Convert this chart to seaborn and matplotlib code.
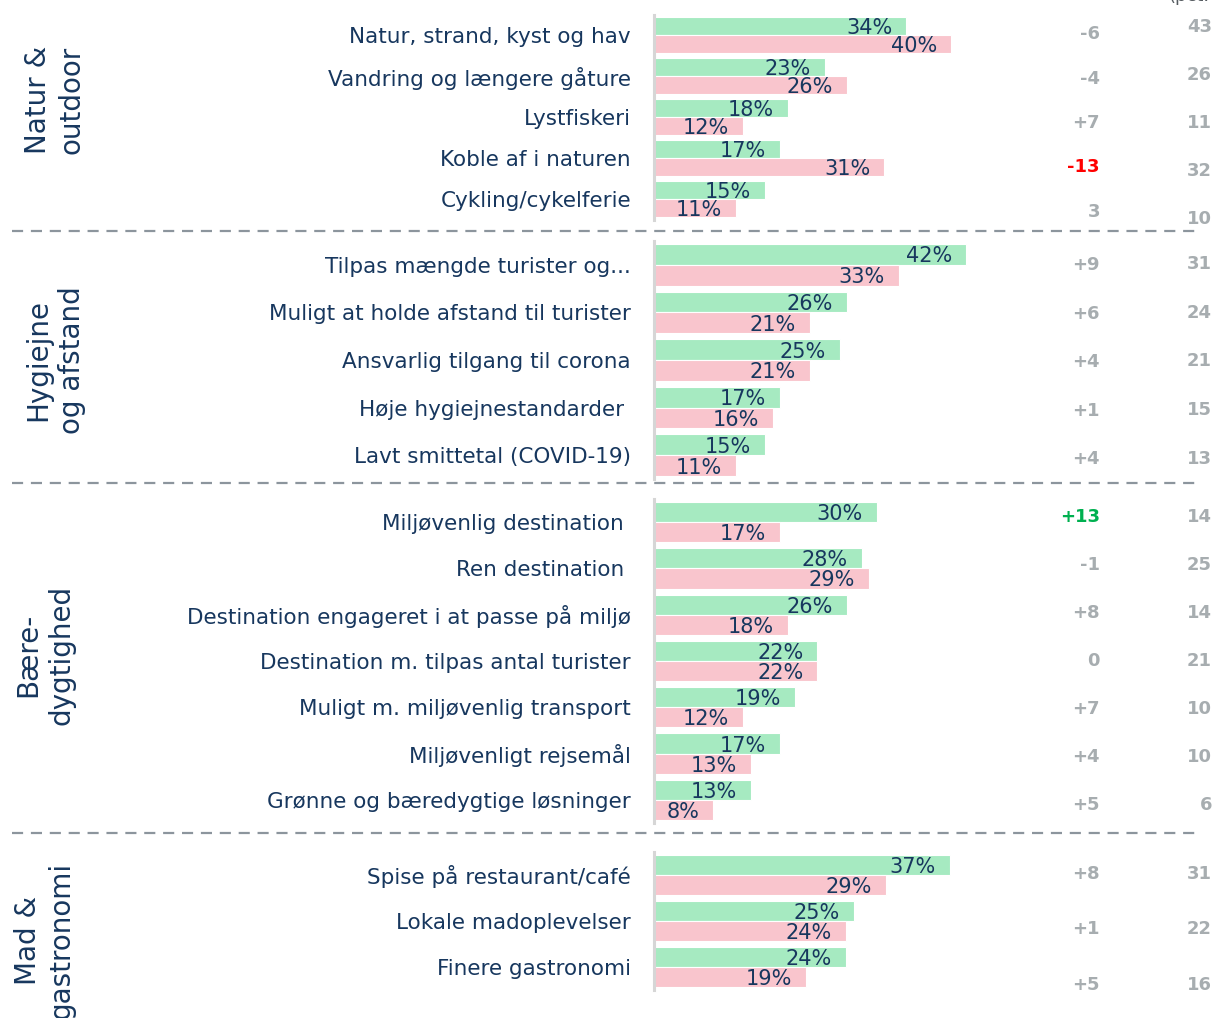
import numpy as np
import pandas as pd
import matplotlib.pyplot as plt
from matplotlib.lines import Line2D
import seaborn as sns

# Data (pct.)
items_natur = ["Natur, strand, kyst og hav", "Vandring og længere gåture", "Lystfiskeri",
               "Koble af i naturen", "Cykling/cykelferie"]
green_natur = [34, 23, 18, 17, 15]
pink_natur = [40, 26, 12, 31, 11]
diff_natur = ["-6", "-4", "+7", "-13", "3"]
total_natur = [43, 26, 11, 32, 10]

items_hyg = ["Tilpas mængde turister og...", "Muligt at holde afstand til turister",
             "Ansvarlig tilgang til corona", "Høje hygiejnestandarder ", "Lavt smittetal (COVID-19)"]
green_hyg = [42, 26, 25, 17, 15]
pink_hyg = [33, 21, 21, 16, 11]
diff_hyg = ["+9", "+6", "+4", "+1", "+4"]
total_hyg = [31, 24, 21, 15, 13]

items_baer = ["Miljøvenlig destination ", "Ren destination ", "Destination engageret i at passe på miljø",
              "Destination m. tilpas antal turister", "Muligt m. miljøvenlig transport",
              "Miljøvenligt rejsemål", "Grønne og bæredygtige løsninger"]
green_baer = [30, 28, 26, 22, 19, 17, 13]
pink_baer = [17, 29, 18, 22, 12, 13, 8]
diff_baer = ["+13", "-1", "+8", "0", "+7", "+4", "+5"]
total_baer = [14, 25, 14, 21, 10, 10, 6]

items_mad = ["Spise på restaurant/café", "Lokale madoplevelser", "Finere gastronomi"]
green_mad = [37, 25, 24]
pink_mad = [29, 24, 19]
diff_mad = ["+8", "+1", "+5"]
total_mad = [31, 22, 16]

groups = ["Natur &\noutdoor", "Hygiejne\nog afstand", "Bære-\ndygtighed", "Mad &\ngastronomi"]

GREEN = "#a6eac1"
PINK = "#f9c5cd"
NAVY = "#17375e"
GREY = "#a7adb0"

sns.set_theme(style="white")
plt.rcParams["font.family"] = ["DejaVu Sans"]

W, H = 1216, 1018
fig = plt.figure(figsize=(W / 100, H / 100), dpi=100)

# layout in pixels: (axes top, axes bottom, x max, diff col first/last y, total col first/last y, group label x/y)
panels = [
    (items_natur, green_natur, pink_natur, diff_natur, total_natur, 14.5, 219.5, 46.6, (34, 212), (27, 219), (55, 100)),
    (items_hyg, green_hyg, pink_hyg, diff_hyg, total_hyg, 241, 479, 46.6, (265, 459), (264, 459), (55, 360)),
    (items_baer, green_baer, pink_baer, diff_baer, total_baer, 499, 823, 46.6, (517, 805), (517, 805), (45, 655)),
    (items_mad, green_mad, pink_mad, diff_mad, total_mad, 852, 990, 43.25, (874, 985), (874, 985), (45, 940)),
]

for gi, (items, g, p, d, t, top, bot, xmax, dy, ty, gl) in enumerate(panels):
    ax = fig.add_axes([654 / W, 1 - bot / H, 346 / W, (bot - top) / H])
    df = pd.DataFrame({
        "item": items * 2,
        "value": g + p,
        "series": ["a"] * len(items) + ["b"] * len(items),
    })
    sns.barplot(data=df, y="item", x="value", hue="series", orient="h",
                palette={"a": GREEN, "b": PINK}, width=0.87, dodge=True,
                saturation=1, edgecolor="white", linewidth=0.8, legend=False, ax=ax)
    ax.set_xlim(0, xmax)
    ax.set_ylim(len(items) - 0.5, -0.5)
    ax.set_xlabel("")
    ax.set_ylabel("")
    ax.set_xticks([])
    for s in ["top", "right", "bottom"]:
        ax.spines[s].set_visible(False)
    ax.spines["left"].set_color("#d6d6d6")
    ax.spines["left"].set_linewidth(2.2)
    ax.tick_params(axis="y", length=0, pad=16.5, labelsize=15.5, labelcolor=NAVY)
    ax.patch.set_alpha(0)

    for i in range(len(items)):
        for val, off in ((g[i], -0.2175), (p[i], 0.2175)):
            ax.annotate(f"{val}%", (val, i + off), xytext=(-14, -2), textcoords="offset pixels",
                        ha="right", va="center", fontsize=15, color=NAVY)

    for i, (y_d, y_t) in enumerate(zip(np.linspace(*dy, len(items)), np.linspace(*ty, len(items)))):
        col = GREY
        if d[i] == "-13":
            col = "#ff0000"
        elif d[i] == "+13":
            col = "#00b050"
        fig.text(1100 / W, 1 - y_d / H, d[i], ha="right", va="center", fontsize=13,
                 fontweight="bold", color=col)
        fig.text(1212 / W, 1 - y_t / H, str(t[i]), ha="right", va="center", fontsize=13,
                 fontweight="bold", color=GREY)

    fig.text(gl[0] / W, 1 - gl[1] / H, groups[gi], rotation=90, ha="center", va="center",
             multialignment="center", fontsize=20, color=NAVY, linespacing=1.25)

# dashed separators
for y in (231, 483, 833):
    fig.add_artist(Line2D([12 / W, 1195 / W], [1 - y / H, 1 - y / H], color="#8c959d",
                          lw=1.6, dashes=(5, 3.5)))

fig.text(1168 / W, 1 + 4 / H, "(pct.", ha="left", va="center", fontsize=13, color="#555b60")

fig.savefig("out.png", dpi=100)
